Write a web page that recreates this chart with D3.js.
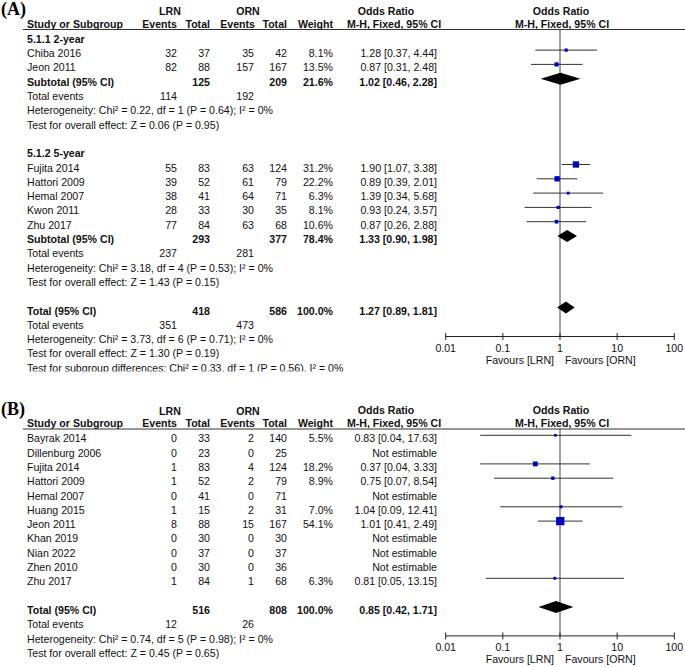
<!DOCTYPE html>
<html><head><meta charset="utf-8">
<script src="https://cdn.jsdelivr.net/npm/d3@7/dist/d3.min.js"></script>
<style>
body{margin:0;background:#fff}
svg{display:block}
text{font-family:"Liberation Sans",Arial,sans-serif;font-size:10.6px;fill:#111}
</style>
</head><body>
<svg id="c" width="685" height="667"></svg>
<script>
// ---------------- Panel A data ----------------
const subgroupNamesA = ["5.1.1 2-year", "5.1.2 5-year"];
const studiesA   = ["Chiba 2016", "Jeon 2011", "Fujita 2014", "Hattori 2009", "Hemal 2007", "Kwon 2011", "Zhu 2017"];
const subgroupOfA = [0, 0, 1, 1, 1, 1, 1];
const lrnEventsA = [32, 82, 55, 39, 38, 28, 77];
const lrnTotalA  = [37, 88, 83, 52, 41, 33, 84];
const ornEventsA = [35, 157, 63, 61, 64, 30, 63];
const ornTotalA  = [42, 167, 124, 79, 71, 35, 68];
const weightA    = [8.1, 13.5, 31.2, 22.2, 6.3, 8.1, 10.6];
const orA        = [1.28, 0.87, 1.90, 0.89, 1.39, 0.93, 0.87];
const loA        = [0.37, 0.31, 1.07, 0.39, 0.34, 0.24, 0.26];
const hiA        = [4.44, 2.48, 3.38, 2.01, 5.68, 3.57, 2.88];
const subWeightA = [21.6, 78.4];
const subOrA     = [1.02, 1.33];
const subLoA     = [0.46, 0.90];
const subHiA     = [2.28, 1.98];
const subHetA    = ["Heterogeneity: Chi² = 0.22, df = 1 (P = 0.64); I² = 0%",
                    "Heterogeneity: Chi² = 3.18, df = 4 (P = 0.53); I² = 0%"];
const subEffectA = ["Test for overall effect: Z = 0.06 (P = 0.95)",
                    "Test for overall effect: Z = 1.43 (P = 0.15)"];
const totalA     = [1.27, 0.89, 1.81];   // OR, lower, upper
const totalTextA = ["Heterogeneity: Chi² = 3.73, df = 6 (P = 0.71); I² = 0%",
                    "Test for overall effect: Z = 1.30 (P = 0.19)",
                    "Test for subgroup differences: Chi² = 0.33, df = 1 (P = 0.56), I² = 0%"];

// ---------------- Panel B data ----------------
const studiesB   = ["Bayrak 2014", "Dillenburg 2006", "Fujita 2014", "Hattori 2009", "Hemal 2007", "Huang 2015", "Jeon 2011", "Khan 2019", "Nian 2022", "Zhen 2010", "Zhu 2017"];
const lrnEventsB = [0, 0, 1, 1, 0, 1, 8, 0, 0, 0, 1];
const lrnTotalB  = [33, 23, 83, 52, 41, 15, 88, 30, 37, 30, 84];
const ornEventsB = [2, 0, 4, 2, 0, 2, 15, 0, 0, 0, 1];
const ornTotalB  = [140, 25, 124, 79, 71, 31, 167, 30, 37, 36, 68];
const weightB    = [5.5, null, 18.2, 8.9, null, 7.0, 54.1, null, null, null, 6.3];
const orB        = [0.83, null, 0.37, 0.75, null, 1.04, 1.01, null, null, null, 0.81];
const loB        = [0.04, null, 0.04, 0.07, null, 0.09, 0.41, null, null, null, 0.05];
const hiB        = [17.63, null, 3.33, 8.54, null, 12.41, 2.49, null, null, null, 13.15];
const totalB     = [0.85, 0.42, 1.71];
const totalTextB = ["Heterogeneity: Chi² = 0.74, df = 5 (P = 0.98); I² = 0%",
                    "Test for overall effect: Z = 0.45 (P = 0.65)"];

// ---------------- Axis ----------------
const tickValues = [0.01, 0.1, 1, 10, 100];
const tickLabels = ["0.01", "0.1", "1", "10", "100"];
const favours = ["Favours [LRN]", "Favours [ORN]"];

// ---------------- Drawing ----------------
const svg = d3.select("#c");
const f2 = d3.format(".2f"), f1 = d3.format(".1f");
const orTxt = (o, l, h) => `${f2(o)} [${f2(l)}, ${f2(h)}]`;
const x = d3.scaleLog().domain([0.01, 100]).range([445.7, 674.3]);
const col = {study: 27, lrnE: 177, lrnT: 210, ornE: 254, ornT: 287, w: 333, or: 437};
const BLUE = "#0000c8", LINE = "#333";
const sq = w => Math.max(2.2, 1.13 * Math.sqrt(w));

function drawPanel(g, label, rows, totalRowIdx, lastRow) {
  const y = d3.scaleLinear().domain([0, 1]).range([42.8, 57.1]); // text baselines
  const py = i => y(i) - 7;                                        // plot centre

  const T = (xx, yy, s, opt = {}) => g.append("text").attr("x", xx).attr("y", yy)
      .attr("text-anchor", opt.anchor || "start")
      .attr("font-weight", opt.bold ? "bold" : null).text(s);

  // panel label
  g.append("text").attr("x", 1).attr("y", 15)
    .style("font-family", "'Liberation Serif','Times New Roman',serif")
    .style("font-size", "18px").attr("font-weight", "bold").style("fill", "#000").text(label);

  // headers
  T(170, 15, "LRN", {anchor: "middle", bold: true});
  T(248, 15, "ORN", {anchor: "middle", bold: true});
  T(386, 14.5, "Odds Ratio", {anchor: "middle", bold: true});
  T(561, 14.5, "Odds Ratio", {anchor: "middle", bold: true});
  T(col.study, 27.5, "Study or Subgroup", {bold: true});
  T(col.lrnE, 27.5, "Events", {anchor: "end", bold: true});
  T(col.lrnT, 27.5, "Total", {anchor: "end", bold: true});
  T(col.ornE + 1, 27.5, "Events", {anchor: "end", bold: true});
  T(col.ornT, 27.5, "Total", {anchor: "end", bold: true});
  T(col.w, 27.5, "Weight", {anchor: "end", bold: true});
  T(394, 27.5, "M-H, Fixed, 95% CI", {anchor: "middle", bold: true});
  T(562, 27.5, "M-H, Fixed, 95% CI", {anchor: "middle", bold: true});
  g.append("line").attr("x1", 23).attr("x2", 685).attr("y1", 29.5).attr("y2", 29.5)
    .attr("stroke", "#333").attr("stroke-width", 1);

  const axisY = y(totalRowIdx) + 22;
  // vertical line of no effect
  g.append("line").attr("x1", x(1)).attr("x2", x(1)).attr("y1", 29.5).attr("y2", axisY)
    .attr("stroke", "#444").attr("stroke-width", 1);

  rows.forEach(r => {
    const yy = y(r.i);
    if (r.kind === "heading") T(col.study, yy, r.text, {bold: true});
    else if (r.kind === "text") T(col.study, yy, r.text);
    else if (r.kind === "events") {
      T(col.study, yy, "Total events");
      T(col.lrnE, yy, r.a, {anchor: "end"});
      T(col.ornE, yy, r.b, {anchor: "end"});
    } else if (r.kind === "study") {
      T(col.study, yy, r.name);
      T(col.lrnE, yy, r.le, {anchor: "end"});
      T(col.lrnT, yy, r.lt, {anchor: "end"});
      T(col.ornE, yy, r.oe, {anchor: "end"});
      T(col.ornT, yy, r.ot, {anchor: "end"});
      if (r.w != null) {
        T(col.w, yy, f1(r.w) + "%", {anchor: "end"});
        T(col.or, yy, orTxt(r.or, r.lo, r.hi), {anchor: "end"});
        const cy = py(r.i);
        g.append("line").attr("x1", x(r.lo)).attr("x2", x(r.hi)).attr("y1", cy).attr("y2", cy)
          .attr("stroke", LINE).attr("stroke-width", 1);
        const s = sq(r.w);
        g.append("rect").attr("x", x(r.or) - s / 2).attr("y", cy - s / 2)
          .attr("width", s).attr("height", s).attr("fill", BLUE);
      } else {
        T(col.or, yy, "Not estimable", {anchor: "end"});
      }
    } else if (r.kind === "pooled") {
      T(col.study, yy, r.label, {bold: true});
      T(col.lrnT, yy, r.lt, {anchor: "end", bold: true});
      T(col.ornT, yy, r.ot, {anchor: "end", bold: true});
      T(col.w, yy, f1(r.w) + "%", {anchor: "end", bold: true});
      T(col.or, yy, orTxt(r.or, r.lo, r.hi), {anchor: "end", bold: true});
      const cy = py(r.i), h = 6;
      g.append("path")
        .attr("d", `M${x(r.lo)},${cy}L${x(r.or)},${cy - h}L${x(r.hi)},${cy}L${x(r.or)},${cy + h}Z`)
        .attr("fill", "#000");
    }
  });

  // axis
  const ax = g.append("g");
  ax.append("line").attr("x1", x(0.01)).attr("x2", x(100)).attr("y1", axisY).attr("y2", axisY)
    .attr("stroke", "#222").attr("stroke-width", 1);
  tickValues.forEach((t, k) => {
    ax.append("line").attr("x1", x(t)).attr("x2", x(t)).attr("y1", axisY - 3.5).attr("y2", axisY + 3.5)
      .attr("stroke", "#222").attr("stroke-width", 1);
    ax.append("text").attr("x", x(t)).attr("y", axisY + 15).attr("text-anchor", "middle").text(tickLabels[k]);
  });
  ax.append("text").attr("x", x(1) - 6).attr("y", axisY + 27).attr("text-anchor", "end").text(favours[0]);
  ax.append("text").attr("x", x(1) + 5).attr("y", axisY + 27).attr("text-anchor", "start").text(favours[1]);
}

// ---- Build rows A ----
const rowsA = [];
let idx = 0;
subgroupNamesA.forEach((name, s) => {
  rowsA.push({kind: "heading", i: idx++, text: name});
  const members = studiesA.map((d, k) => k).filter(k => subgroupOfA[k] === s);
  members.forEach(k => rowsA.push({kind: "study", i: idx++, name: studiesA[k],
    le: lrnEventsA[k], lt: lrnTotalA[k], oe: ornEventsA[k], ot: ornTotalA[k],
    w: weightA[k], or: orA[k], lo: loA[k], hi: hiA[k]}));
  rowsA.push({kind: "pooled", i: idx++, label: "Subtotal (95% CI)",
    lt: d3.sum(members, k => lrnTotalA[k]), ot: d3.sum(members, k => ornTotalA[k]),
    w: subWeightA[s], or: subOrA[s], lo: subLoA[s], hi: subHiA[s]});
  rowsA.push({kind: "events", i: idx++, a: d3.sum(members, k => lrnEventsA[k]), b: d3.sum(members, k => ornEventsA[k])});
  rowsA.push({kind: "text", i: idx++, text: subHetA[s]});
  rowsA.push({kind: "text", i: idx++, text: subEffectA[s]});
  idx++; // blank
});
const totalRowA = idx;
rowsA.push({kind: "pooled", i: idx++, label: "Total (95% CI)", lt: d3.sum(lrnTotalA), ot: d3.sum(ornTotalA),
  w: 100, or: totalA[0], lo: totalA[1], hi: totalA[2]});
rowsA.push({kind: "events", i: idx++, a: d3.sum(lrnEventsA), b: d3.sum(ornEventsA)});
totalTextA.forEach(t => rowsA.push({kind: "text", i: idx++, text: t}));

// ---- Build rows B ----
const rowsB = [];
idx = 0;
studiesB.forEach((n, k) => rowsB.push({kind: "study", i: idx++, name: n,
  le: lrnEventsB[k], lt: lrnTotalB[k], oe: ornEventsB[k], ot: ornTotalB[k],
  w: weightB[k], or: orB[k], lo: loB[k], hi: hiB[k]}));
idx++;
const totalRowB = idx;
rowsB.push({kind: "pooled", i: idx++, label: "Total (95% CI)", lt: d3.sum(lrnTotalB), ot: d3.sum(ornTotalB),
  w: 100, or: totalB[0], lo: totalB[1], hi: totalB[2]});
rowsB.push({kind: "events", i: idx++, a: d3.sum(lrnEventsB), b: d3.sum(ornEventsB)});
totalTextB.forEach(t => rowsB.push({kind: "text", i: idx++, text: t}));

// clip for panel A (bottom text row is cut in the figure)
svg.append("defs").append("clipPath").attr("id", "clipA")
  .append("rect").attr("x", 0).attr("y", 0).attr("width", 685).attr("height", 371.5);

const gA = svg.append("g").attr("clip-path", "url(#clipA)");
drawPanel(gA, "(A)", rowsA, totalRowA);
const gB = svg.append("g").attr("transform", "translate(0,399.5)");
drawPanel(gB, "(B)", rowsB, totalRowB);
</script>
</body></html>
